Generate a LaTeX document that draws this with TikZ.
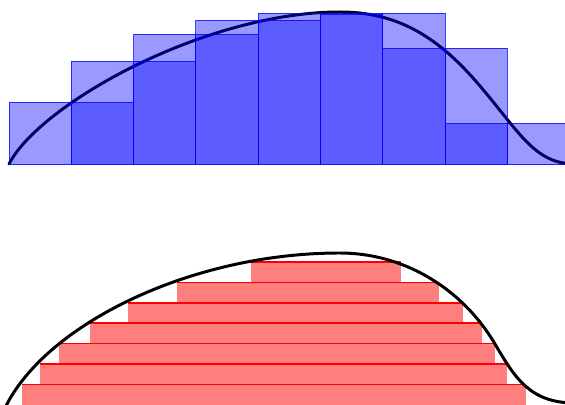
\documentclass[tikz,border=0pt]{standalone}
\usepackage{tikz}

\begin{document}
\begin{tikzpicture}[x=0.02cm, y=0.02cm,
  curve/.style={line width=1.7pt, line cap=round},
  bar/.style={draw=blue, draw opacity=0.75, fill=blue, fill opacity=0.4, line width=0.5pt},
  strip/.style={fill=red, fill opacity=0.5},
  level/.style={draw=red, line width=0.9pt}]
  \clip (0,0) rectangle (565,405);
  % upper and lower sums
  \begin{scope}[shift={(0,241)}]
    \draw[curve] (9,0) .. controls (40,60) and (205,152) .. (340,152)
      .. controls (400,152) and (440,125) .. (480,78)
      .. controls (520,31) and (535,0) .. (575,0);
    \foreach \h [count=\i from 0] in {62,103,130,144,151,151,151,116,41}
      \draw[bar] ({9+62.3*\i},0) rectangle ++(62.3,\h);
    \foreach \h [count=\i from 0] in {0,62,103,130,144,150,116,41,0}
      \draw[bar] ({9+62.3*\i},0) rectangle ++(62.3,\h);
  \end{scope}
  % horizontal strips
  \foreach \l/\r [count=\i from 0] in {22/526,40/507,59/495,90/482,128/463,177/439,251/401} {
    \fill[strip] (\l,{20.43*\i}) rectangle (\r,{20.43*(\i+1)});
    \draw[level] (\l,{20.43*(\i+1)}) -- (\r,{20.43*(\i+1)});
  }
  \draw[curve] (5,-3) .. controls (45,80) and (190,152) .. (340,152)
    .. controls (400,152) and (460,120) .. (495,61)
    .. controls (515,27) and (530,2) .. (575,2);
\end{tikzpicture}
\end{document}
